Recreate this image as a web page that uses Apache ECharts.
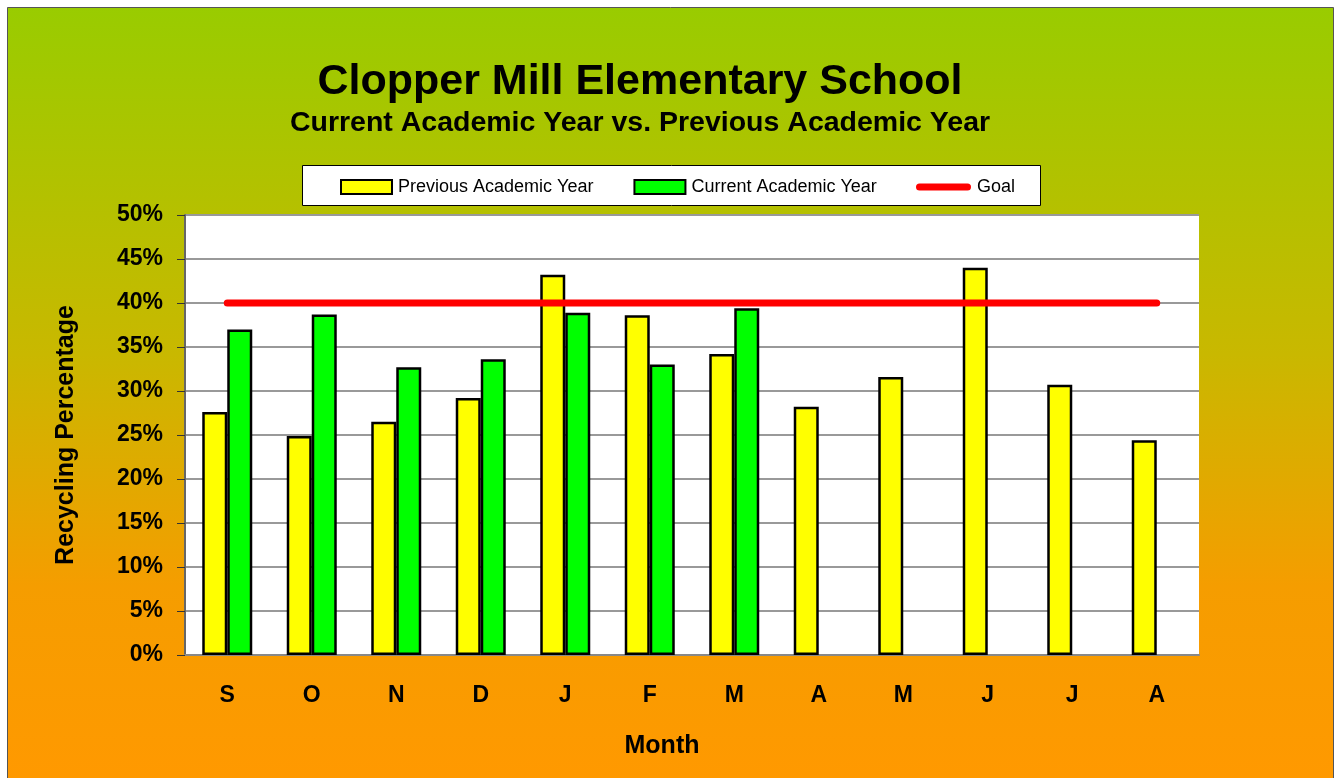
<!DOCTYPE html>
<html>
<head>
<meta charset="utf-8">
<script src="https://cdn.jsdelivr.net/npm/echarts@6/dist/echarts.min.js"></script>
<style>
  html, body { margin: 0; padding: 0; background: #fff; }
  #chart { width: 1335px; height: 778px; }
</style>
</head>
<body>
<div id="chart"></div>
<script>
// month initials, Sept -> Aug
const months = ['S', 'O', 'N', 'D', 'J', 'F', 'M', 'A', 'M', 'J', 'J', 'A'];
const previousYear = [27.6, 24.9, 26.5, 29.2, 43.2, 38.6, 34.2, 28.2, 31.6, 44.0, 30.7, 24.4];
const currentYear = [37.0, 38.7, 32.7, 33.6, 38.9, 33.0, 39.4, null, null, null, null, null];
const goal = [40, 40, 40, 40, 40, 40, 40, 40, 40, 40, 40, 40];

const font = "'Liberation Sans', Arial, sans-serif";
const legendText = { fontFamily: font, fontSize: 18, color: '#000', padding: [0, 0, 0, 1] };

const chart = echarts.init(document.getElementById('chart'));
chart.setOption({
    animation: false,
    graphic: [{
        type: 'rect',
        z: -10,
        silent: true,
        shape: { x: 7.5, y: 7.5, width: 1326, height: 771 },
        style: {
            fill: new echarts.graphic.LinearGradient(0, 0, 0, 1, [
                { offset: 0, color: '#99cc00' },
                { offset: 0.45, color: '#c9b800' },
                { offset: 0.75, color: '#f59d00' },
                { offset: 1, color: '#ff9900' }
            ]),
            stroke: '#555',
            lineWidth: 1
        }
    }, {
        // legend frame
        type: 'rect',
        z: -5,
        silent: true,
        shape: { x: 302.5, y: 165.5, width: 738, height: 40 },
        style: { fill: '#fff', stroke: '#000', lineWidth: 1 }
    }],
    title: {
        text: 'Clopper Mill Elementary School',
        subtext: 'Current Academic Year vs. Previous Academic Year',
        left: 635,
        textAlign: 'center',
        top: 56,
        itemGap: 5,
        textStyle: { fontFamily: font, fontSize: 43, fontWeight: 'bold', color: '#000' },
        subtextStyle: { fontFamily: font, fontSize: 28.5, fontWeight: 'bold', color: '#000' }
    },
    legend: [{
        left: 340,
        top: 178,
        padding: 0,
        itemWidth: 51,
        itemHeight: 14,
        itemGap: 40,
        textStyle: legendText,
        data: [
            { name: 'Previous Academic Year', icon: 'rect' },
            { name: 'Current Academic Year', icon: 'rect' }
        ]
    }, {
        left: 916,
        top: 178,
        padding: 0,
        itemWidth: 55,
        itemHeight: 14,
        textStyle: legendText,
        data: [{
            name: 'Goal',
            icon: 'path://M3.5,3.5 L51.5,3.5 A3.5,3.5 0 0 1 51.5,10.5 L3.5,10.5 A3.5,3.5 0 0 1 3.5,3.5 Z',
            itemStyle: { color: '#ff0000' }
        }]
    }],
    grid: {
        left: 185,
        right: 136,
        top: 215,
        bottom: 123,
        show: true,
        backgroundColor: '#fff',
        borderWidth: 0
    },
    xAxis: {
        type: 'category',
        data: months,
        name: 'Month',
        nameLocation: 'middle',
        nameGap: 79,
        nameTextStyle: { fontFamily: font, fontSize: 25, fontWeight: 'bold', color: '#000', padding: [0, 60, 0, 0] },
        axisLine: { lineStyle: { color: '#888', width: 2 } },
        axisTick: { show: false },
        axisLabel: { fontFamily: font, fontSize: 23, fontWeight: 'bold', color: '#000', margin: 29 }
    },
    yAxis: {
        type: 'value',
        min: 0,
        max: 50,
        interval: 5,
        name: 'Recycling Percentage',
        nameLocation: 'middle',
        nameGap: 106,
        nameTextStyle: { fontFamily: font, fontSize: 25, fontWeight: 'bold', color: '#000' },
        axisLine: { show: true, lineStyle: { color: '#666', width: 2 } },
        axisTick: { show: true, length: 8, lineStyle: { color: '#333', width: 1 } },
        axisLabel: {
            fontFamily: font, fontSize: 23, fontWeight: 'bold', color: '#000', margin: 22,
            formatter: v => v + '%'
        },
        splitLine: { lineStyle: { color: '#999', width: 2 } }
    },
    series: [{
        name: 'Previous Academic Year',
        type: 'bar',
        data: previousYear,
        barWidth: 25,
        barGap: '0%',
        itemStyle: { color: '#ffff00', borderColor: '#000', borderWidth: 2.5 }
    }, {
        name: 'Current Academic Year',
        type: 'bar',
        data: currentYear,
        barWidth: 25,
        itemStyle: { color: '#00ff00', borderColor: '#000', borderWidth: 2.5 }
    }, {
        name: 'Goal',
        type: 'line',
        data: goal,
        symbol: 'none',
        z: 5,
        lineStyle: { color: '#ff0000', width: 7, cap: 'round' },
        itemStyle: { color: '#ff0000' }
    }]
});
</script>
</body>
</html>
